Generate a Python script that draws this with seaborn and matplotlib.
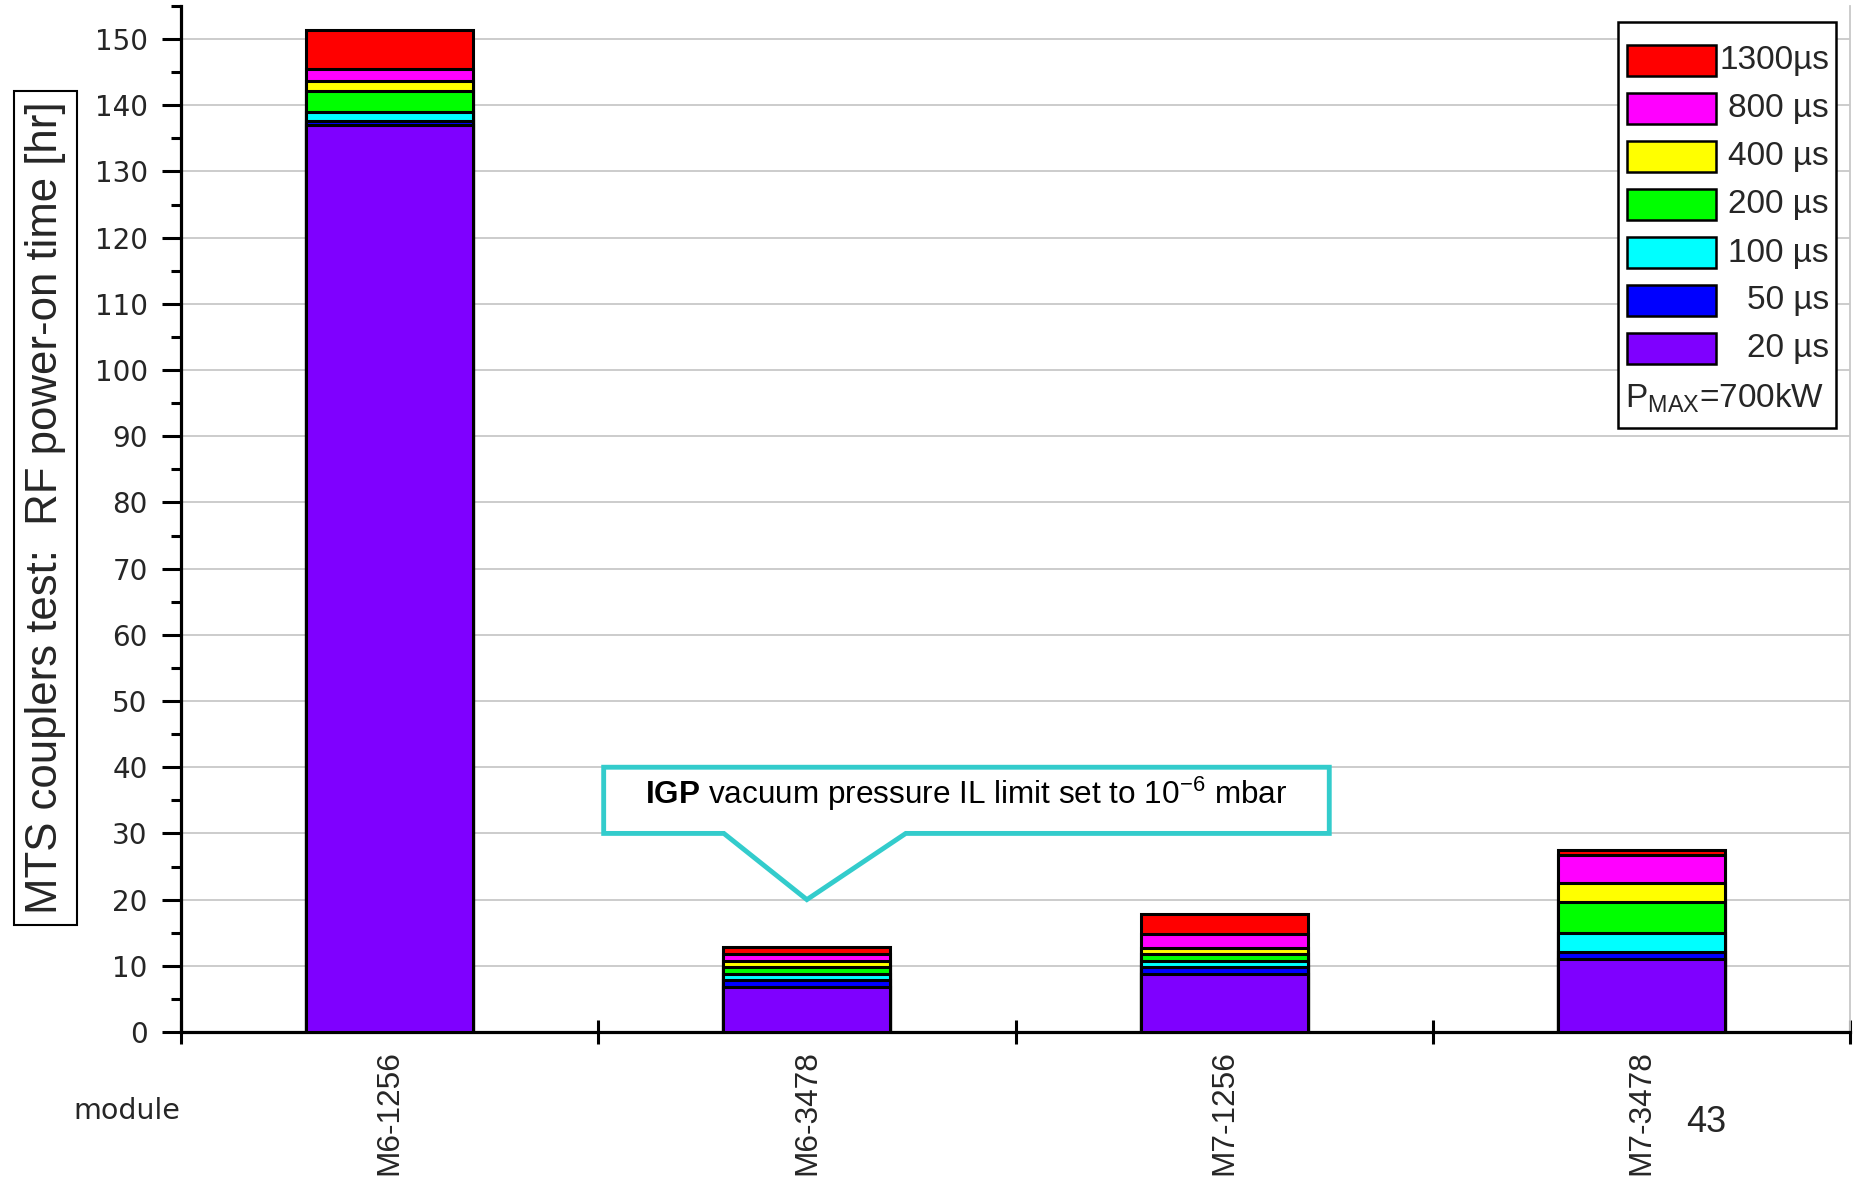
import matplotlib
matplotlib.use("Agg")
import matplotlib.pyplot as plt
import seaborn as sns
import pandas as pd
from matplotlib import font_manager as fm
from matplotlib.patches import Rectangle, Polygon
from matplotlib.ticker import MultipleLocator, FixedLocator

# ---- data -------------------------------------------------------------
modules = ["M6-1256", "M6-3478", "M7-1256", "M7-3478"]
pulse_labels = ["20 µs", "50 µs", "100 µs", "200 µs", "400 µs", "800 µs", "1300µs"]
hours_20us = [137.0, 6.8, 8.7, 11.0]
hours_50us = [0.7, 1.0, 1.1, 1.1]
hours_100us = [1.3, 1.0, 1.0, 2.9]
hours_200us = [3.1, 1.0, 1.0, 4.6]
hours_400us = [1.5, 1.0, 0.9, 2.9]
hours_800us = [1.9, 1.0, 2.1, 4.2]
hours_1300us = [5.9, 1.0, 3.1, 0.8]
pulse_colors = ["#7F00FF", "#0000FF", "#00FFFF", "#00FF00", "#FFFF00", "#FF00FF", "#FF0000"]
y_ticks = list(range(0, 151, 10))

layers = [hours_20us, hours_50us, hours_100us, hours_200us,
          hours_400us, hours_800us, hours_1300us]

# ---- fonts ------------------------------------------------------------
sns.set_theme(style="white")

def has_font(name):
    try:
        fm.findfont(fm.FontProperties(family=name), fallback_to_default=False)
        return True
    except Exception:
        return False

if has_font("Liberation Sans Narrow"):
    NARROW = "Liberation Sans Narrow"
    fs = dict(ylabel=32, xtick=28, legend=28, note=26)
else:
    NARROW = "Liberation Sans"
    fs = dict(ylabel=31.5, xtick=22.8, legend=24, note=22.7)

plt.rcParams["font.family"] = ["DejaVu Sans"]
plt.rcParams["mathtext.fontset"] = "custom"
plt.rcParams["mathtext.rm"] = NARROW
plt.rcParams["mathtext.bf"] = NARROW + ":bold"
plt.rcParams["mathtext.it"] = NARROW + ":italic"

W, H = 1854, 1182
fig = plt.figure(figsize=(W / 100, H / 100), dpi=100)
fig.patch.set_facecolor("white")

def fx(px):
    return px / W

def fy(py):
    return 1 - py / H

ax = fig.add_axes([fx(181), fy(1032), fx(1850) - fx(181), fy(6) - fy(1032)])

# ---- stacked bars (cumulative totals, tallest drawn first) -------------
rows = []
running = [0.0] * len(modules)
for label, vals in zip(pulse_labels, layers):
    running = [r + v for r, v in zip(running, vals)]
    for m, c in zip(modules, running):
        rows.append({"module": m, "pulse": label, "cum": c})
df = pd.DataFrame(rows)

for label, color in reversed(list(zip(pulse_labels, pulse_colors))):
    sub = df[df["pulse"] == label]
    sns.barplot(data=sub, x="module", y="cum", order=modules, color=color,
                saturation=1, width=0.4, edgecolor="black", linewidth=2.2,
                errorbar=None, ax=ax, zorder=3)

# ---- axes styling -----------------------------------------------------
ax.set_xlim(-0.5, 3.5)
ax.set_ylim(0, 155)
ax.set_xlabel("")
ax.set_ylabel("")
ax.set_facecolor("white")
ax.yaxis.set_major_locator(FixedLocator(y_ticks))
ax.yaxis.set_minor_locator(MultipleLocator(5))
ax.yaxis.grid(True, which="major", color="#c8c8c8", lw=1.3, zorder=0)
ax.set_axisbelow(True)
ax.spines["top"].set_visible(False)
ax.spines["right"].set_color("#c8c8c8")
ax.spines["right"].set_linewidth(1.3)
for s in ["left", "bottom"]:
    ax.spines[s].set_color("black")
    ax.spines[s].set_linewidth(2.3)

ax.tick_params(axis="y", which="major", direction="out", length=14, width=2.2,
               color="black", labelsize=20, pad=10, left=True)
ax.tick_params(axis="y", which="minor", direction="out", length=7, width=2.2,
               color="black", left=True)

ax.set_xticks(range(len(modules)))
ax.set_xticklabels(modules, rotation=90, fontfamily=NARROW, fontsize=fs["xtick"])
ax.xaxis.set_minor_locator(FixedLocator([i - 0.5 for i in range(len(modules) + 1)]))
ax.tick_params(axis="x", which="major", length=0, pad=13, bottom=True)
ax.tick_params(axis="x", which="minor", direction="inout", length=17, width=2.2,
               color="black", bottom=True)

# ---- y label in a frame -----------------------------------------------
fig.text(fx(45.5), fy(508), "MTS couplers test:  RF power-on time [hr]",
         rotation=90, ha="center", va="center", fontfamily=NARROW,
         fontsize=fs["ylabel"],
         bbox=dict(boxstyle="square,pad=0.25", fc="white", ec="black", lw=1.5))

fig.text(fx(127), fy(1111), "module", ha="center", va="center", fontsize=20.5)
fig.text(fx(1706), fy(1123), "43", ha="center", va="center",
         fontfamily="Liberation Sans", fontsize=26)

# ---- callout ----------------------------------------------------------
tip_x, tip_y = modules.index("M6-3478"), 20
callout = Polygon([(0.513, 40), (2.252, 40), (2.252, 30), (tip_x + 0.237, 30),
                   (tip_x, tip_y), (tip_x - 0.199, 30), (0.513, 30)],
                  closed=True, fc="white", ec="#33CCCC", lw=3.5, zorder=5,
                  joinstyle="miter")
ax.add_patch(callout)
ax.text(1.382, 36.0,
        r"$\mathbf{IGP}$ vacuum pressure IL limit set to 10$^{\mathrm{-6}}$ mbar",
        ha="center", va="center", fontfamily=NARROW, fontsize=fs["note"],
        color="black", zorder=6)

# ---- legend box -------------------------------------------------------
fig.patches.append(Rectangle((fx(1618), fy(428)), fx(1836) - fx(1618),
                             fy(22) - fy(428), transform=fig.transFigure,
                             fc="white", ec="black", lw=1.8, zorder=10))
row_top = 45
for i, (label, color) in enumerate(reversed(list(zip(pulse_labels, pulse_colors)))):
    top = row_top + 48 * i
    fig.patches.append(Rectangle((fx(1627), fy(top + 31)), fx(1716) - fx(1627),
                                 fy(top) - fy(top + 31), transform=fig.transFigure,
                                 fc=color, ec="black", lw=1.8, zorder=11))
    fig.text(fx(1829), fy(top + 16), label, ha="right", va="center",
             fontfamily=NARROW, fontsize=fs["legend"], zorder=12)
fig.text(fx(1625), fy(398), r"P$_{\mathrm{MAX}}$=700kW", ha="left", va="center",
         fontfamily=NARROW, fontsize=fs["legend"], zorder=12)

fig.savefig("out.png", dpi=100, facecolor="white")
